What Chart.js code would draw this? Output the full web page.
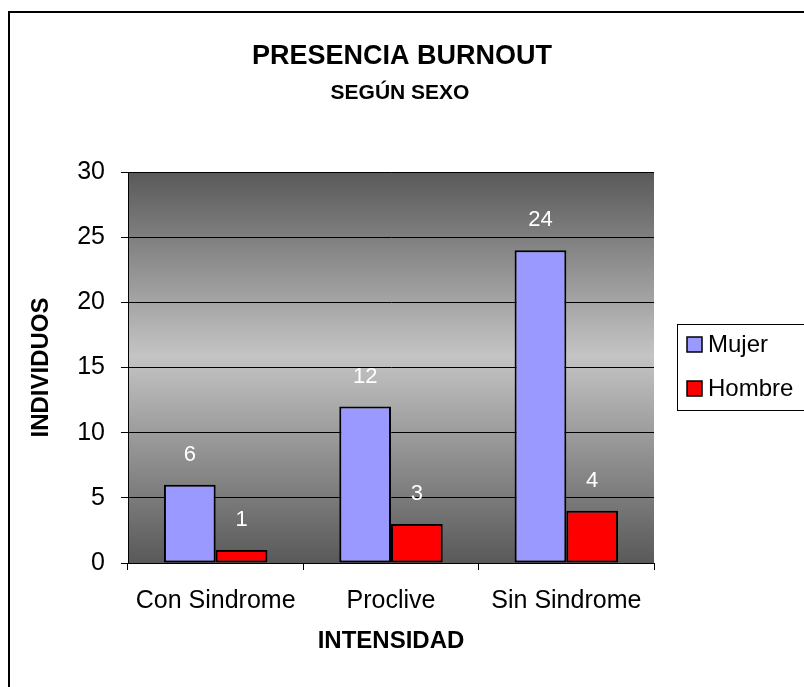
<!DOCTYPE html>
<html>
<head>
<meta charset="utf-8">
<script src="https://cdn.jsdelivr.net/npm/chart.js@4.4.0/dist/chart.umd.min.js"></script>
<style>
  html, body { margin: 0; padding: 0; background: #fff; }
  #wrap { width: 804px; height: 687px; }
</style>
</head>
<body>
<div id="wrap"><canvas id="burnoutChart" width="804" height="687"></canvas></div>
<script>
const categories = ['Con Sindrome', 'Proclive', 'Sin Sindrome'];
const mujer = [6, 12, 24];
const hombre = [1, 3, 4];
const yTicks = [0, 5, 10, 15, 20, 25, 30];

const FONT = "'Liberation Sans', Arial, sans-serif";

// outer frame + titles + legend drawn on the canvas
const decorations = {
  id: 'decorations',
  beforeDraw(chart) {
    const c = chart.ctx;
    const a = chart.chartArea;
    c.save();
    c.fillStyle = '#fff';
    c.fillRect(0, 0, chart.width, chart.height);
    c.strokeStyle = '#000';
    c.lineWidth = 2;
    c.strokeRect(9, 12, 900, 900);

    // plot area gradient
    const g = c.createLinearGradient(0, a.top, 0, a.bottom);
    g.addColorStop(0, '#595959');
    g.addColorStop(0.47, '#c4c4c4');
    g.addColorStop(1, '#595959');
    c.fillStyle = g;
    c.fillRect(a.left, a.top, a.right - a.left, a.bottom - a.top);
    c.restore();
  },
  afterDraw(chart) {
    const c = chart.ctx;
    c.save();
    c.fillStyle = '#000';
    c.textAlign = 'center';
    c.textBaseline = 'middle';
    c.font = 'bold 27px ' + FONT;
    c.fillText('PRESENCIA BURNOUT', 402, 57);
    c.font = 'bold 21px ' + FONT;
    c.fillText('SEGÚN SEXO', 400, 93);

    // legend
    c.lineWidth = 1;
    c.strokeStyle = '#000';
    c.strokeRect(677.5, 324.5, 200, 86);
    c.textAlign = 'left';
    c.font = '24px ' + FONT;
    const rows = [344, 388];
    chart.data.datasets.forEach((ds, i) => {
      c.fillStyle = ds.backgroundColor;
      c.fillRect(687, rows[i] - 7, 15, 15);
      c.lineWidth = 1.5;
      c.strokeRect(687, rows[i] - 7, 15, 15);
      c.fillStyle = '#000';
      c.fillText(ds.label, 708, rows[i] + 1);
    });

    // value labels above bars
    c.fillStyle = '#fff';
    c.textAlign = 'center';
    c.font = '22px ' + FONT;
    chart.data.datasets.forEach((ds, i) => {
      chart.getDatasetMeta(i).data.forEach((bar, j) => {
        c.fillText(String(ds.data[j]), bar.x, bar.y - 30);
      });
    });
    c.restore();
  }
};

const ctx = document.getElementById('burnoutChart').getContext('2d');

new Chart(ctx, {
  type: 'bar',
  data: {
    labels: categories,
    datasets: [
      {
        label: 'Mujer',
        data: mujer,
        backgroundColor: '#9999ff',
        borderColor: '#000',
        borderWidth: 2,
        borderSkipped: false
      },
      {
        label: 'Hombre',
        data: hombre,
        backgroundColor: '#ff0000',
        borderColor: '#000',
        borderWidth: 2,
        borderSkipped: false
      }
    ]
  },
  options: {
    responsive: false,
    animation: false,
    devicePixelRatio: 1,
    layout: {
      padding: { top: 172, right: 150, left: 0, bottom: 0 }
    },
    datasets: {
      bar: { barPercentage: 1, categoryPercentage: 0.59 }
    },
    plugins: {
      legend: { display: false },
      tooltip: { enabled: false }
    },
    scales: {
      x: {
        afterFit(scale) { scale.height = 124; },
        grid: {
          drawOnChartArea: false,
          color: '#000',
          tickLength: 7
        },
        border: { color: '#000', width: 1 },
        ticks: {
          color: '#000',
          padding: 16,
          font: { family: FONT, size: 25 }
        },
        title: {
          display: true,
          text: 'INTENSIDAD',
          color: '#000',
          padding: { bottom: 31, top: 0 },
          font: { family: FONT, size: 24, weight: 'bold' }
        }
      },
      y: {
        min: 0,
        max: 30,
        afterFit(scale) { scale.width = 128; },
        afterBuildTicks(scale) {
          scale.ticks = yTicks.map(v => ({ value: v }));
        },
        grid: {
          color: '#000',
          tickLength: 7
        },
        border: { color: '#000', width: 1 },
        ticks: {
          color: '#000',
          padding: 16,
          font: { family: FONT, size: 25 }
        },
        title: {
          display: true,
          text: 'INDIVIDUOS',
          color: '#000',
          padding: { top: 27, bottom: 0 },
          font: { family: FONT, size: 24, weight: 'bold' }
        }
      }
    }
  },
  plugins: [decorations]
});
</script>
</body>
</html>
